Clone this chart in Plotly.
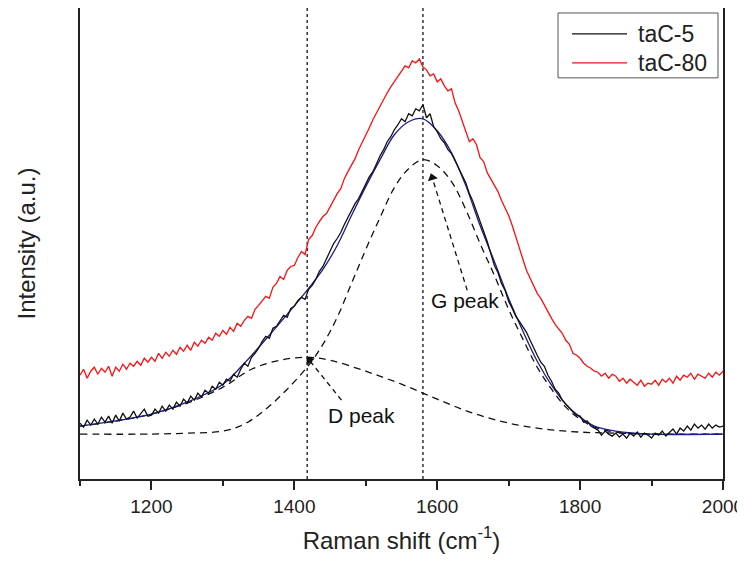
import plotly.graph_objects as go

# ---------------- data ----------------
# Raman shift grid of the measured spectra (cm^-1), 5 cm^-1 step
shift = list(range(1100, 2001, 5))

# taC-5 measured spectrum (arbitrary units)
tac5 = [
    56, 52, 59, 54, 60,   55, 62, 57, 63, 56,   64, 58, 66, 60, 62,   68, 61, 65, 70, 63,
    64, 70, 66, 73, 68,   74, 70, 77, 73, 80,   76, 83, 79, 86, 82,   89, 86, 93, 90, 97,
    94, 100, 98, 105, 102, 110, 116, 113, 122, 126, 131, 138, 143, 141, 151, 153, 159, 164, 162, 171,
    173, 179, 182, 180, 190, 194, 200, 208, 213, 221, 228, 236, 241, 247, 255, 262, 268, 276, 281, 288,
    295, 303, 308, 316, 324, 330, 338, 343, 350, 355, 361, 358, 366, 364, 371, 369, 375, 362, 366, 353,
    348, 341, 337, 330, 326, 319, 311, 304, 297, 286, 278, 268, 260, 248, 238, 226, 214, 207, 196, 189,
    178, 171, 163, 158, 152, 147, 139, 131, 124, 117, 113, 104, 98, 90, 86,   79, 75, 70, 67, 64,
    63, 57, 58, 53, 51,   49, 44, 48, 45, 43,   46, 42, 45, 41, 46,   43, 47, 42, 46, 44,
    41, 46, 44, 48, 43,   47, 50, 45, 51, 48,   53, 49, 55, 51, 54,   50, 55, 51, 54, 52,
    53,
]

# taC-80 measured spectrum (arbitrary units)
tac80 = [
    104, 110, 101, 108, 112, 105, 111, 107, 113, 103, 112, 108, 115, 110, 116, 113, 118, 114, 121, 117,
    122, 118, 126, 121, 127, 123, 129, 125, 132, 128, 134, 129, 137, 133, 139, 136, 142, 139, 146, 143,
    149, 145, 152, 148, 156, 153, 159, 163, 161, 170, 174, 178, 183, 181, 192, 196, 203, 200, 209, 213,
    214, 222, 228, 225, 240, 244, 252, 258, 263, 266, 273, 280, 286, 291, 301, 308, 315, 321, 330, 337,
    345, 352, 360, 367, 374, 380, 387, 393, 398, 404, 408, 414, 412, 419, 417, 421, 413, 410, 404, 406,
    398, 401, 394, 389, 391, 377, 369, 359, 349, 338, 341, 335, 322, 318, 307, 301, 294, 288, 279, 272,
    264, 254, 242, 231, 220, 209, 201, 194, 186, 181, 174, 168, 161, 155, 151, 146, 139, 135, 126, 124,
    121, 116, 113, 111, 108, 107, 103, 106, 101, 105, 103, 98, 101, 96, 100, 97, 94, 99, 93, 96,
    95, 99, 94, 100, 97, 101, 96, 103, 99, 104, 102, 106, 100, 105, 103, 101, 106, 102, 107, 104,
    108,
]

# fitted D band (dashed)
d_x = [1100, 1150, 1200, 1250, 1300, 1340, 1380, 1418, 1450, 1500, 1550, 1600, 1650, 1700,
       1750, 1800, 1850, 1900, 2000]
d_y = [53, 58, 65, 76, 92, 110, 119, 122, 119, 108, 95, 80, 66, 56, 50, 47, 46, 45, 45]

# fitted G band (dashed) and total fit (blue)
g_x = [1100, 1200, 1250, 1300, 1330, 1360, 1390, 1420, 1440, 1460, 1480, 1500, 1520, 1540,
       1560, 1580, 1600, 1620, 1640, 1660, 1680, 1700, 1720, 1740, 1760, 1780, 1800, 1820,
       1850, 1900, 2000]
g_y = [45, 45, 46, 48, 55, 70, 90, 114, 135, 162, 196, 230, 262, 292, 311, 320, 314, 298,
       270, 236, 204, 170, 140, 112, 90, 72, 60, 52, 47, 45, 45]
fit_y = [53, 65, 77, 95, 116, 140, 165, 191, 210, 234, 264, 293, 320, 345, 358, 361, 349,
         327, 294, 254, 218, 181, 148, 118, 94, 75, 62, 53, 48, 45, 45]

# band positions (vertical guides)
d_pos = 1418
g_pos = 1580

# labelled arrows: label position, arrow tail, arrow head
labels = ["G peak", "D peak"]
label_x = [1639, 1494]
label_y = [179, 64]
tail_x = [1642, 1466]
tail_y = [189, 79]
head_x = [1593, 1421]
head_y = [302, 119]
head_angle = [-17, -39]

series_names = ["taC-5", "taC-80"]
series_colors = ["#111111", "#ff1010"]

x_ticks = [1200, 1400, 1600, 1800, 2000]
x_range = [1100, 2000]
y_range = [0, 472]

# ---------------- figure ----------------
FONT = "Liberation Sans, Arial, sans-serif"
fig = go.Figure()

dash_style = "7px,5px"
fig.add_trace(go.Scatter(x=d_x, y=d_y, mode="lines", line=dict(color="#111", width=1.3, dash=dash_style, shape="spline"),
                         showlegend=False, hoverinfo="skip"))
fig.add_trace(go.Scatter(x=g_x, y=g_y, mode="lines", line=dict(color="#111", width=1.3, dash=dash_style, shape="spline"),
                         showlegend=False, hoverinfo="skip"))
fig.add_trace(go.Scatter(x=g_x, y=fit_y, mode="lines", line=dict(color="#1c1c8a", width=1.3, shape="spline"),
                         showlegend=False, hoverinfo="skip"))
fig.add_trace(go.Scatter(x=shift, y=tac5, mode="lines", name=series_names[0],
                         line=dict(color=series_colors[0], width=1.3), showlegend=False))
fig.add_trace(go.Scatter(x=shift, y=tac80, mode="lines", name=series_names[1],
                         line=dict(color=series_colors[1], width=1.3), showlegend=False))

for xp in (d_pos, g_pos):
    fig.add_shape(type="line", xref="x", yref="paper", x0=xp, x1=xp, y0=0, y1=1,
                  line=dict(color="#222", width=1.4, dash="3px,3px"), layer="below")

# dashed arrows to the bands
for i in range(len(labels)):
    fig.add_trace(go.Scatter(x=[tail_x[i], head_x[i]], y=[tail_y[i], head_y[i]], mode="lines",
                             line=dict(color="#111", width=1.3, dash="5px,4px"),
                             showlegend=False, hoverinfo="skip"))
fig.add_trace(go.Scatter(x=head_x, y=head_y, mode="markers",
                         marker=dict(symbol="triangle-up", size=9, color="#111", angle=head_angle,
                                     line=dict(width=0)),
                         showlegend=False, hoverinfo="skip"))

for i in range(len(labels)):
    fig.add_annotation(x=label_x[i], y=label_y[i], text=labels[i], showarrow=False,
                       font=dict(family=FONT, size=21, color="#111"))

# legend box (drawn in paper coordinates of the plot area)
fig.add_shape(type="rect", xref="paper", yref="paper", x0=0.7434, x1=0.9922, y0=0.8517, y1=0.9894,
              line=dict(color="#555", width=1), fillcolor="white", layer="above")
leg_rows = [0.9449, 0.8835]
for name, col, ry in zip(series_names, series_colors, leg_rows):
    fig.add_shape(type="line", xref="paper", yref="paper", x0=0.7652, x1=0.8507, y0=ry, y1=ry,
                  line=dict(color=col, width=1.3), layer="above")
    fig.add_annotation(xref="paper", yref="paper", x=0.8647, y=ry, text=name, showarrow=False,
                       xanchor="left", yanchor="middle",
                       font=dict(family=FONT, size=23, color="#222"))

fig.update_layout(
    width=737, height=554,
    margin=dict(l=72, r=22, t=0, b=83),
    paper_bgcolor="white", plot_bgcolor="white",
    font=dict(family=FONT, color="#222"),
    showlegend=False,
)
fig.update_xaxes(
    range=x_range, tickvals=x_ticks, ticks="outside", ticklen=9, tickwidth=1.5, tickcolor="#222",
    minor=dict(dtick=100, tick0=1100, ticks="outside", ticklen=5, tickwidth=1.5, tickcolor="#222"),
    showline=True, linecolor="#222", linewidth=1.8, mirror=True, showgrid=False, zeroline=False,
    tickfont=dict(family=FONT, size=19, color="#222"), automargin=False,
    title=dict(text="Raman shift (cm<sup>-1</sup>)", font=dict(family=FONT, size=24, color="#222"), standoff=16),
)
fig.update_yaxes(
    range=y_range, showticklabels=False, ticks="", showline=True, linecolor="#222", linewidth=1.8,
    mirror=True, showgrid=False, zeroline=False, automargin=False,
    title=dict(text="Intensity (a.u.)", font=dict(family=FONT, size=24, color="#222"), standoff=36),
)

fig.write_html("out.html")
